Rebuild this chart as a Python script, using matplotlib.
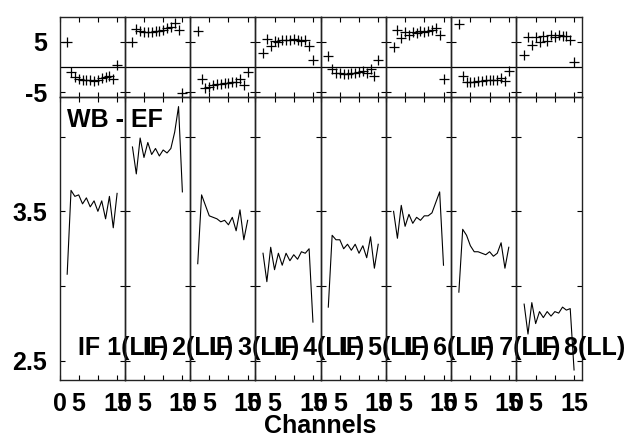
import matplotlib
matplotlib.use("Agg")
import matplotlib.pyplot as plt

plt.rcParams['font.family'] = ['Liberation Sans', 'DejaVu Sans']
plt.rcParams['font.weight'] = 'bold'
plt.rcParams['font.size'] = 18

# channels 2..15 of each IF
channels = [2, 3, 4, 5, 6, 7, 8, 9, 10, 11, 12, 13, 14, 15]
if_labels = ['IF 1(LL)', 'IF 2(LL)', 'IF 3(LL)', 'IF 4(LL)',
             'IF 5(LL)', 'IF 6(LL)', 'IF 7(LL)', 'IF 8(LL)']

# phase (top row, degrees)
phase_if1 = [5.0, -1.0, -2.0, -2.3, -2.6, -2.6, -2.6, -2.7, -2.5, -2.2, -1.9, -1.8, -2.4, 0.4]
phase_if2 = [5.0, 7.5, 7.1, 7.0, 7.0, 7.0, 7.1, 7.2, 7.4, 7.7, 8.0, 8.7, 7.4, -5.1]
phase_if3 = [7.1, -2.4, -4.1, -4.0, -3.6, -3.4, -3.3, -3.2, -3.1, -3.0, -2.9, -2.4, -3.6, -0.9]
phase_if4 = [2.7, 5.5, 4.2, 5.1, 5.0, 5.3, 5.4, 5.4, 5.5, 5.3, 5.1, 5.4, 4.2, 1.4]
phase_if5 = [2.1, -0.3, -1.1, -1.2, -1.3, -1.3, -1.2, -1.1, -0.9, -0.7, -1.1, -0.3, -1.8, 1.4]
phase_if6 = [3.9, 7.3, 5.7, 6.9, 6.4, 6.9, 6.7, 7.1, 6.9, 7.2, 7.4, 7.7, 6.3, -2.3]
phase_if7 = [8.6, -1.8, -2.9, -2.9, -2.9, -2.8, -2.7, -2.5, -2.5, -2.6, -2.5, -2.1, -2.7, -0.8]
phase_if8 = [2.4, 5.9, 4.4, 5.9, 4.9, 6.1, 5.1, 6.4, 5.9, 6.4, 6.1, 6.1, 5.3, 1.1]

# amplitude (bottom row)
amp_if1 = [3.08, 3.64, 3.60, 3.61, 3.55, 3.59, 3.53, 3.57, 3.50, 3.57, 3.45, 3.60, 3.39, 3.62]
amp_if2 = [3.93, 3.75, 3.99, 3.86, 3.96, 3.88, 3.92, 3.87, 3.91, 3.89, 3.92, 4.03, 4.20, 3.63]
amp_if3 = [3.15, 3.61, 3.54, 3.47, 3.46, 3.45, 3.43, 3.44, 3.41, 3.46, 3.37, 3.51, 3.31, 3.44]
amp_if4 = [3.22, 3.03, 3.26, 3.11, 3.22, 3.14, 3.22, 3.17, 3.21, 3.18, 3.23, 3.22, 3.25, 2.76]
amp_if5 = [2.86, 3.34, 3.31, 3.31, 3.25, 3.28, 3.24, 3.28, 3.22, 3.27, 3.19, 3.33, 3.12, 3.28]
amp_if6 = [3.50, 3.32, 3.54, 3.40, 3.48, 3.42, 3.46, 3.44, 3.47, 3.47, 3.49, 3.56, 3.63, 3.14]
amp_if7 = [2.96, 3.38, 3.34, 3.27, 3.23, 3.23, 3.22, 3.21, 3.23, 3.20, 3.22, 3.29, 3.12, 3.26]
amp_if8 = [2.88, 2.68, 2.89, 2.75, 2.83, 2.79, 2.83, 2.80, 2.83, 2.82, 2.86, 2.84, 2.85, 2.44]

phases = [phase_if1, phase_if2, phase_if3, phase_if4, phase_if5, phase_if6, phase_if7, phase_if8]
amps = [amp_if1, amp_if2, amp_if3, amp_if4, amp_if5, amp_if6, amp_if7, amp_if8]

W, H = 631, 438
fig = plt.figure(figsize=(W / 100, H / 100), dpi=100)

left = 59.5 / W
pw = 65.28 / W
top_b, top_h = (H - 96.7) / H, (96.7 - 17.3) / H
bot_b, bot_h = (H - 380) / H, (380 - 96.7) / H

tick_kw = dict(direction='in', length=3.6, width=0.8, top=True, right=True)

for i in range(8):
    x0 = left + i * pw
    axt = fig.add_axes([x0, top_b, pw, top_h])
    axb = fig.add_axes([x0, bot_b, pw, bot_h])
    for ax in (axt, axb):
        ax.patch.set_visible(False)
        ax.set_xlim(0, 17)
        ax.set_xticks([0, 5, 10, 15])
        ax.tick_params(axis='both', **tick_kw)
        for s in ax.spines.values():
            s.set_linewidth(1.0)
            s.set_color('#222222')

    axt.plot(channels, phases[i], ls='none', marker='+', ms=7, mew=0.9, color='black')
    axt.axhline(0, color='black', lw=0.9)
    axt.set_ylim(-5.93, 9.93)
    axt.set_yticks([-5, 5])
    axt.set_xticklabels([])

    axb.plot(channels, amps[i], color='black', lw=0.8)
    axb.set_ylim(2.373, 4.266)
    axb.set_yticks([2.5, 3.0, 3.5, 4.0])
    axb.set_xticklabels(['0', '5', '', '15'])
    axb.tick_params(axis='x', pad=8.4)

    if i == 0:
        axt.set_yticklabels(['-5', '5'])
        axb.set_yticklabels(['2.5', '', '3.5', ''])
        axt.tick_params(axis='y', pad=9)
        axb.tick_params(axis='y', pad=9)
        axb.text(0.115, 0.894, 'WB - EF', transform=axb.transAxes,
                 va='baseline', ha='left', clip_on=False, zorder=10)
    else:
        axt.set_yticklabels([])
        axb.set_yticklabels([])

    axb.text(0.283, 0.088, if_labels[i], transform=axb.transAxes,
             va='baseline', ha='left', clip_on=False, zorder=10)

fig.text((59.5 + 581.7) / 2 / W, 5.0 / H, 'Channels', ha='center', va='baseline')

fig.savefig('out.png', dpi=100)
